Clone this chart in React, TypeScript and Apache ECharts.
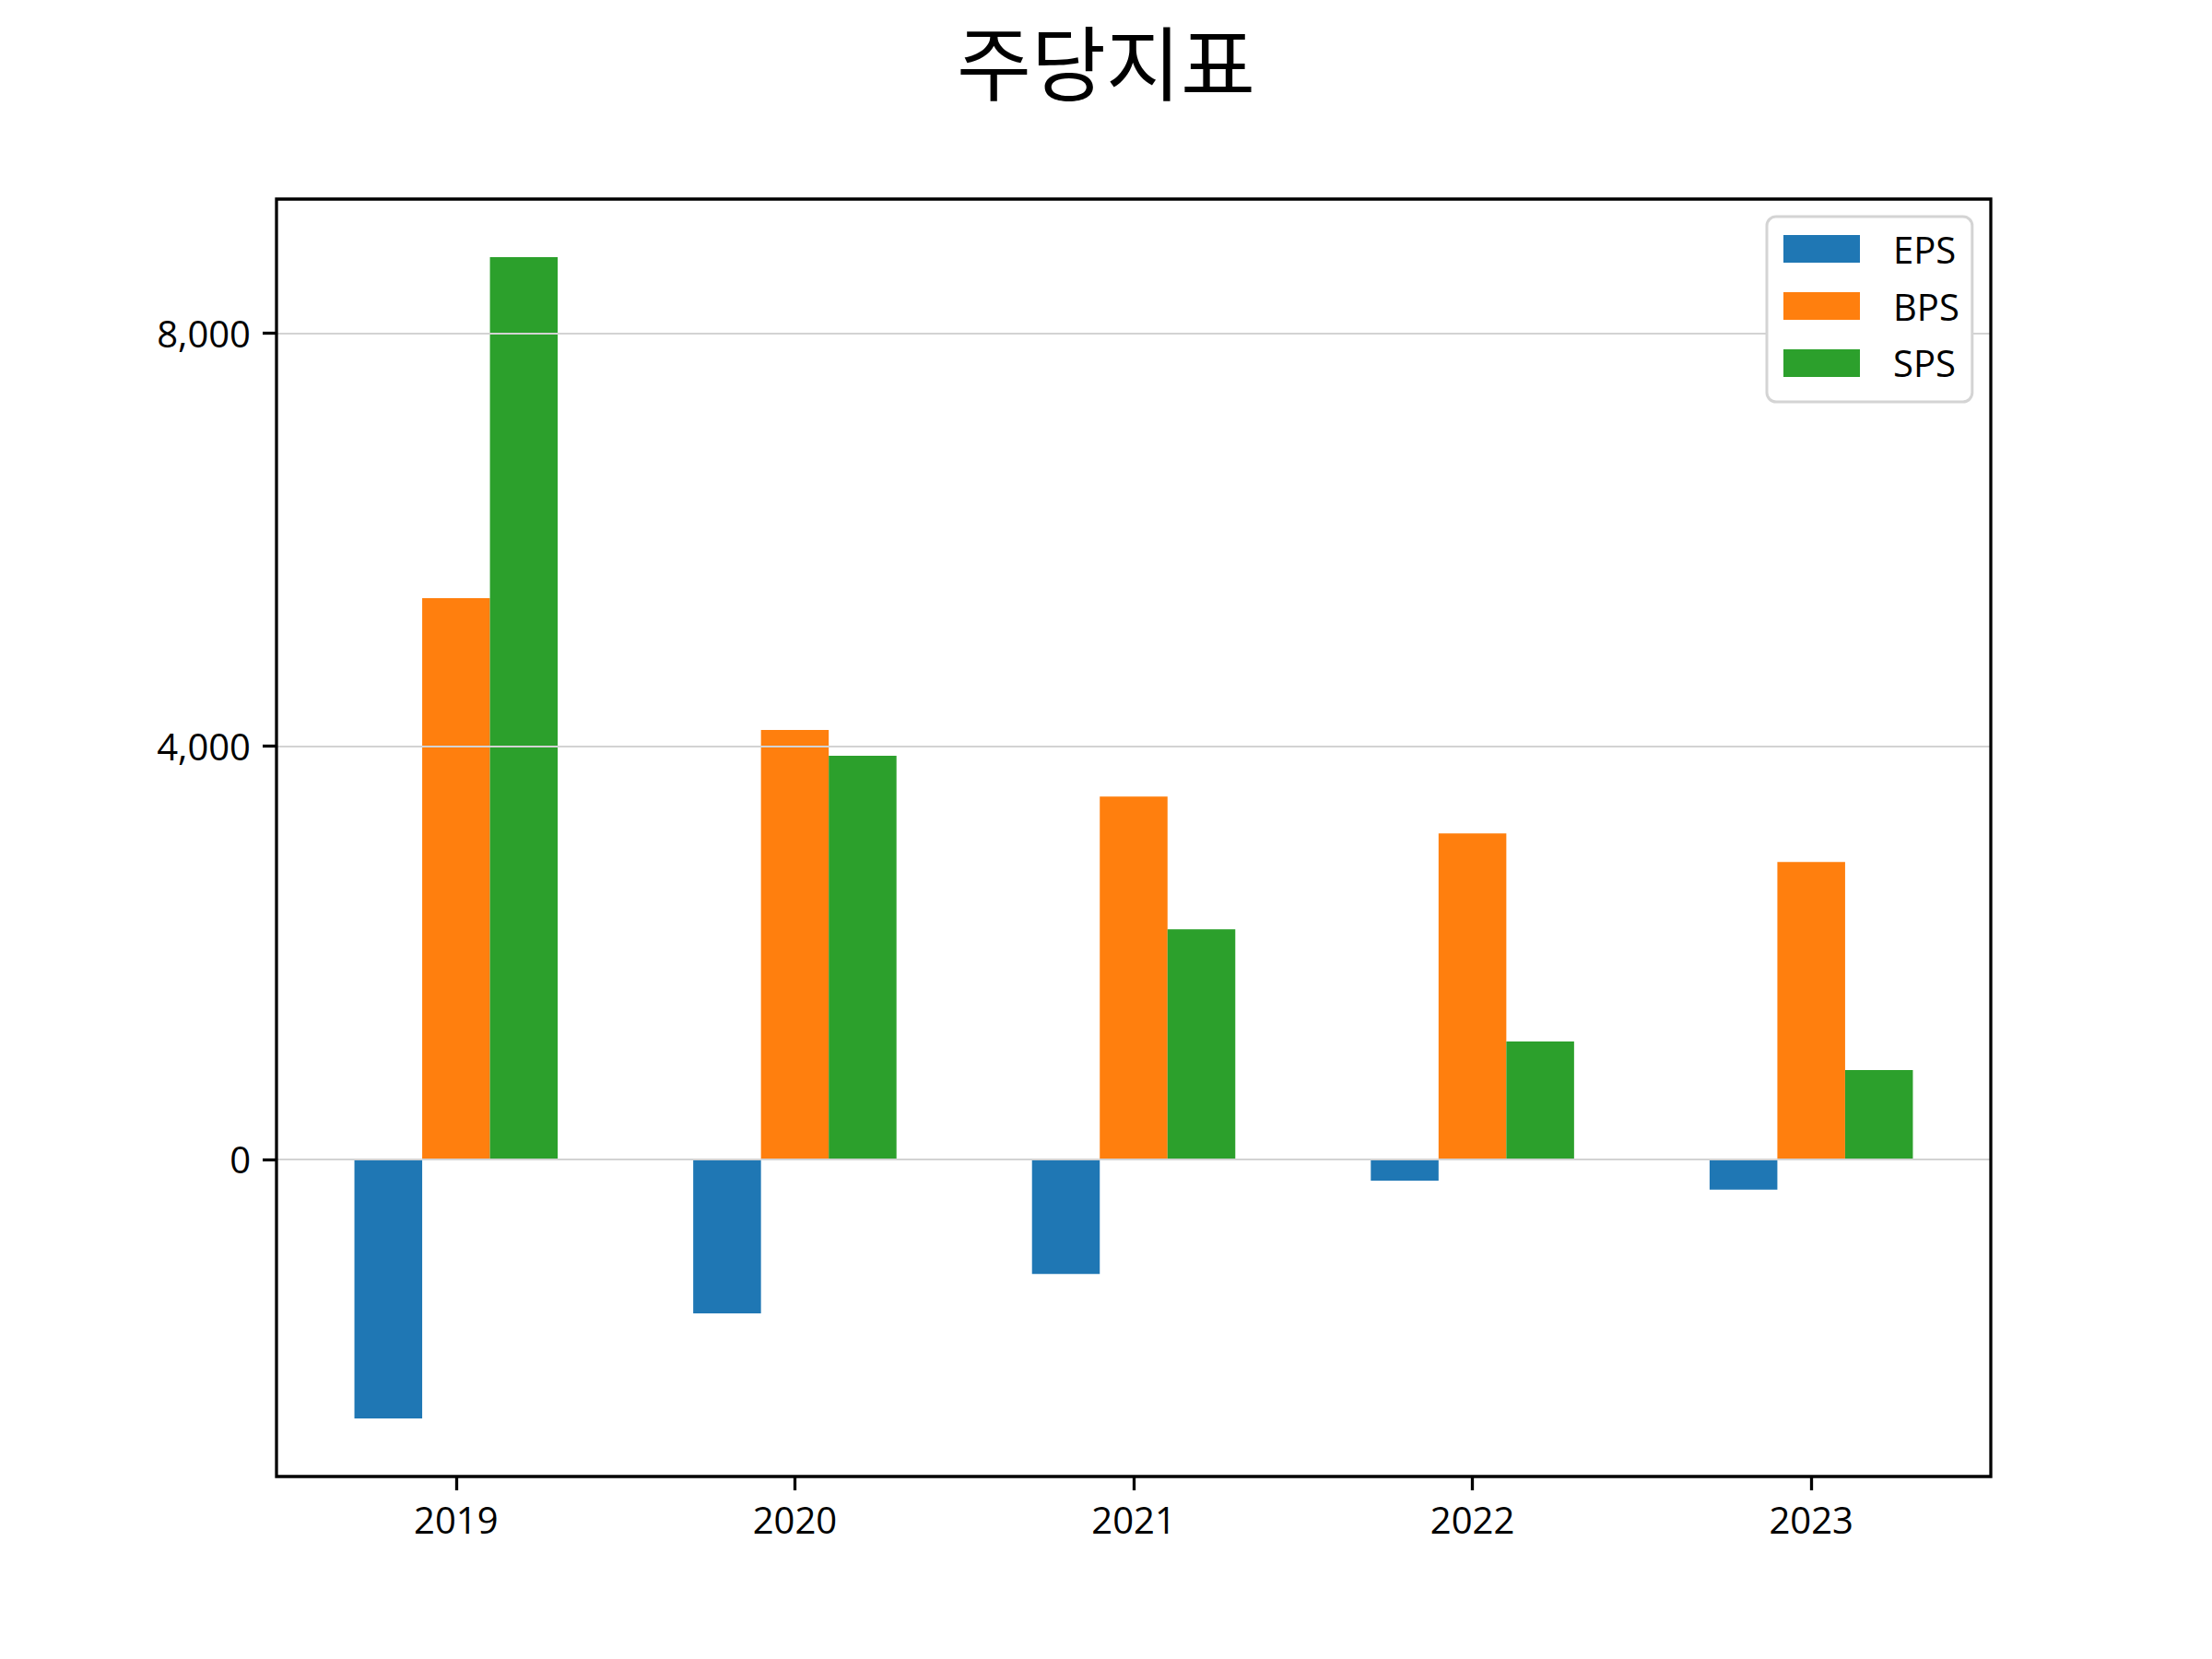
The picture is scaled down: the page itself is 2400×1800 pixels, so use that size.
import React, { useEffect, useRef } from "react";
import * as echarts from "echarts";

const years = ["2019", "2020", "2021", "2022", "2023"];
const epsValues = [-2510, -1493, -1110, -208, -295];
const bpsValues = [5434, 4158, 3514, 3157, 2880];
const spsValues = [8737, 3909, 2228, 1140, 863];
const yTickValues = [0, 4000, 8000];
const seriesNames = ["EPS", "BPS", "SPS"];
const colors = ["#1f77b4", "#ff7f0e", "#2ca02c"];

export default function App() {
  const ref = useRef<HTMLDivElement>(null);
  useEffect(() => {
    document.body.style.margin = "0";
    if (!ref.current) return;
    const chart = echarts.init(ref.current, null, { renderer: "svg" });

    const all = [...epsValues, ...bpsValues, ...spsValues];
    const lo = Math.min(...all);
    const hi = Math.max(...all);
    const pad = (hi - lo) * 0.05;
    const yMin = lo - pad;
    const yMax = hi + pad;

    const frameLeft = 300;
    const frameTop = 216;
    const frameW = 1860;
    const frameH = 1386;
    const xSpan = 4.6 * 1.1;
    const pxPerUnit = frameW / xSpan;
    const bandOffset = ((xSpan - 5) / 2) * pxPerUnit;

    const font = "'Open Sans', 'Noto Sans CJK KR', sans-serif";
    const valueData = [epsValues, bpsValues, spsValues];

    const option: any = {
      animation: false,
      backgroundColor: "#ffffff",
      title: {
        text: "주당지표",
        left: "center",
        top: 8,
        textStyle: {
          fontFamily: "'Noto Sans CJK KR', sans-serif",
          fontSize: 88,
          lineHeight: 100,
          fontWeight: "normal",
          color: "#000",
        },
      },
      legend: {
        data: seriesNames,
        orient: "vertical",
        left: 1917,
        top: 235,
        padding: [15, 14, 22, 18],
        itemWidth: 83,
        itemHeight: 30,
        itemGap: 22,
        backgroundColor: "#ffffff",
        borderColor: "#d4d4d4",
        borderWidth: 3,
        borderRadius: 10,
        icon: "rect",
        textStyle: {
          fontFamily: font,
          fontSize: 40,
          color: "#000",
          padding: [0, 0, 0, 31],
        },
        z: 20,
      },
      grid: [
        {
          left: frameLeft + bandOffset,
          top: frameTop,
          width: frameW - 2 * bandOffset,
          height: frameH,
        },
        {
          left: frameLeft,
          top: frameTop,
          width: frameW,
          height: frameH,
          show: true,
          backgroundColor: "transparent",
          borderColor: "#000",
          borderWidth: 3.3,
          z: 10,
        },
      ],
      xAxis: [
        {
          type: "category",
          gridIndex: 0,
          position: "bottom",
          data: years,
          axisLine: { show: false, onZero: false },
          axisTick: {
            show: true,
            alignWithLabel: true,
            inside: false,
            length: 15,
            lineStyle: { color: "#000", width: 3.3 },
          },
          axisLabel: {
            fontFamily: font,
            fontSize: 40,
            color: "#000",
            margin: 26,
          },
          splitLine: { show: false },
        },
        {
          type: "value",
          gridIndex: 1,
          min: 0,
          max: 1,
          show: false,
        },
      ],
      yAxis: [
        {
          type: "value",
          gridIndex: 0,
          min: yMin,
          max: yMax,
          show: false,
        },
        {
          type: "value",
          gridIndex: 1,
          min: yMin,
          max: yMax,
          axisLine: { show: false },
          axisTick: {
            show: true,
            inside: false,
            length: 15,
            customValues: yTickValues,
            lineStyle: { color: "#000", width: 3.3 },
          },
          axisLabel: {
            customValues: yTickValues,
            fontFamily: font,
            fontSize: 40,
            color: "#000",
            margin: 28,
            formatter: (v: number) => v.toLocaleString("en-US"),
          },
          splitLine: { show: false },
        },
      ],
      series: [
        ...seriesNames.map((name, i) => ({
          name,
          type: "bar",
          xAxisIndex: 0,
          yAxisIndex: 0,
          data: valueData[i],
          barWidth: "20%",
          barGap: "0%",
          itemStyle: { color: colors[i] },
          z: 2,
        })),
        {
          name: "grid",
          type: "line",
          xAxisIndex: 1,
          yAxisIndex: 1,
          data: [],
          z: 5,
          markLine: {
            silent: true,
            symbol: ["none", "none"],
            label: { show: false },
            lineStyle: { color: "#d3d3d3", width: 2, type: "solid" },
            data: yTickValues.map((v) => ({ yAxis: v })),
          },
        },
      ],
    };
    chart.setOption(option);
    return () => chart.dispose();
  }, []);
  return <div ref={ref} style={{ width: 2400, height: 1800 }} />;
}
